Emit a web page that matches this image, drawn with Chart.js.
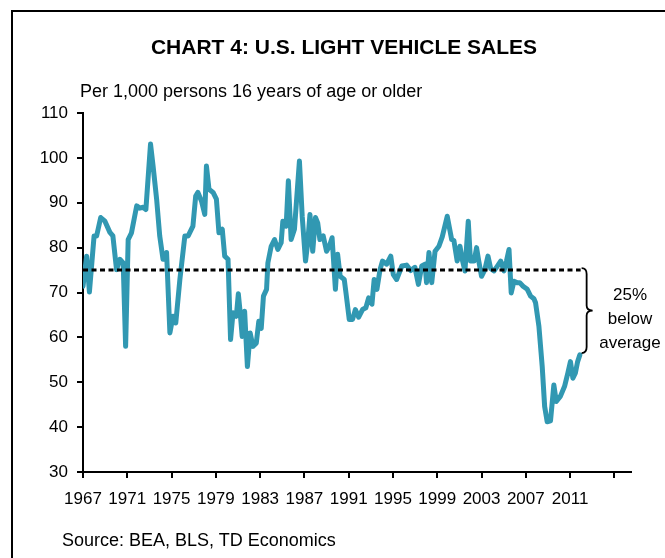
<!DOCTYPE html>
<html>
<head>
<meta charset="utf-8">
<script src="https://cdn.jsdelivr.net/npm/chart.js@4.4.1/dist/chart.umd.min.js"></script>
<style>
  html, body { margin: 0; padding: 0; width: 665px; height: 558px; overflow: hidden; background: #fff; }
  body { position: relative; font-family: "Liberation Sans", Arial, sans-serif; color: #000; }
  #frame { position: absolute; left: 11px; top: 10px; width: 800px; height: 800px; border-left: 2.5px solid #000; border-top: 2.5px solid #000; box-sizing: border-box; }
  #c { position: absolute; left: 0; top: 0; }
  .t { position: absolute; white-space: nowrap; line-height: 1; }
  #title { left: 0; width: 688px; text-align: center; top: 36px; font-size: 21px; font-weight: bold; }
  #subtitle { left: 80px; top: 82px; font-size: 18px; }
  #source { left: 62px; top: 531px; font-size: 18px; }
  #note { left: 580px; width: 100px; top: 283px; font-size: 17px; line-height: 24px; text-align: center; white-space: normal; }
</style>
</head>
<body>
<div id="frame"></div>
<canvas id="c" width="665" height="558"></canvas>
<div class="t" id="title">CHART 4: U.S. LIGHT VEHICLE SALES</div>
<div class="t" id="subtitle">Per 1,000 persons 16 years of age or older</div>
<div class="t" id="source">Source: BEA, BLS, TD Economics</div>
<div class="t" id="note">25%<br>below<br>average</div>
<script>
// Light vehicle sales per 1,000 persons aged 16+
const years = [
  1967.00, 1967.33, 1967.58, 1968.00, 1968.23, 1968.60, 1968.98, 1969.43, 1969.70, 1970.03,
  1970.33, 1970.63, 1970.85, 1971.08, 1971.38, 1971.85, 1972.13, 1972.43, 1972.68, 1973.10,
  1973.33, 1973.65, 1973.93, 1974.23, 1974.55, 1974.85, 1975.13, 1975.38, 1975.75, 1976.20,
  1976.50, 1976.93, 1977.18, 1977.38, 1977.70, 1978.00, 1978.15, 1978.38, 1978.75, 1979.05,
  1979.28, 1979.58, 1979.80, 1980.10, 1980.33, 1980.55, 1980.85, 1981.03, 1981.20, 1981.38,
  1981.60, 1981.85, 1982.10, 1982.35, 1982.65, 1982.88, 1983.10, 1983.30, 1983.58, 1983.70,
  1984.00, 1984.30, 1984.60, 1984.90, 1985.05, 1985.35, 1985.55, 1985.80, 1986.10, 1986.55,
  1986.80, 1987.10, 1987.30, 1987.50, 1987.75, 1988.00, 1988.20, 1988.40, 1988.70, 1989.00,
  1989.25, 1989.50, 1989.80, 1990.00, 1990.23, 1990.60, 1990.75, 1991.05, 1991.35, 1991.60,
  1991.90, 1992.25, 1992.55, 1992.80, 1993.10, 1993.30, 1993.55, 1993.83, 1994.05, 1994.43,
  1994.80, 1995.03, 1995.33, 1995.80, 1996.23, 1996.60, 1996.98, 1997.30, 1997.60, 1997.90,
  1998.03, 1998.25, 1998.50, 1998.80, 1999.15, 1999.45, 1999.90, 2000.30, 2000.50, 2000.80,
  2001.05, 2001.25, 2001.50, 2001.80, 2002.00, 2002.33, 2002.55, 2002.75, 2003.00, 2003.30,
  2003.58, 2003.83, 2004.13, 2004.43, 2004.73, 2005.03, 2005.25, 2005.48, 2005.68, 2005.93,
  2006.20, 2006.45, 2006.75, 2007.13, 2007.43, 2007.73, 2007.88, 2008.18, 2008.48, 2008.70,
  2008.93, 2009.23, 2009.53, 2009.75, 2010.13, 2010.50, 2010.80, 2011.03, 2011.25, 2011.48,
  2011.68, 2011.88
];
const sales = [
  71.4, 78.1, 70.1, 82.6, 82.6, 86.7, 85.9, 83.4, 82.6, 75.1,
  77.4, 76.6, 58.0, 81.8, 83.3, 89.3, 88.8, 89.0, 88.5, 103.1,
  98.2, 90.8, 82.6, 77.4, 78.9, 61.0, 64.7, 63.2, 72.9, 82.6,
  82.6, 84.8, 91.5, 92.3, 90.4, 87.4, 98.2, 93.0, 92.3, 90.8,
  83.3, 84.1, 78.1, 77.4, 59.5, 65.5, 64.7, 69.7, 65.5, 60.2,
  65.8, 53.5, 61.0, 58.0, 58.7, 63.6, 62.0, 69.2, 70.7, 76.6,
  80.3, 81.8, 79.6, 81.1, 85.9, 84.8, 94.9, 81.8, 84.1, 99.3,
  87.0, 77.0, 81.1, 87.4, 79.2, 86.7, 85.5, 81.8, 82.6, 79.2,
  80.3, 82.2, 70.7, 78.5, 73.6, 72.9, 70.0, 64.0, 64.0, 66.2,
  64.5, 66.2, 66.6, 68.8, 67.4, 72.9, 70.7, 75.1, 77.0, 76.3,
  78.1, 74.0, 72.9, 75.9, 76.1, 74.9, 75.6, 71.8, 75.9, 76.3,
  72.2, 78.9, 72.2, 79.2, 80.3, 82.4, 87.0, 81.8, 81.6, 77.0,
  80.3, 77.4, 74.8, 85.9, 77.0, 77.0, 80.0, 77.0, 73.6, 75.1,
  78.1, 75.3, 74.8, 75.9, 77.0, 74.8, 77.0, 79.6, 69.9, 72.5,
  72.2, 72.2, 71.4, 70.7, 69.2, 68.6, 67.7, 62.5, 53.5, 44.6,
  41.2, 41.4, 49.4, 45.7, 46.9, 49.1, 52.1, 54.6, 50.9, 52.1,
  54.6, 56.1
];
const averageValue = 75;
const averageSpan = [1967, 2011.95];
const braceRange = [75, 56.5];
const xTickYears = [1967, 1971, 1975, 1979, 1983, 1987, 1991, 1995, 1999, 2003, 2007, 2011, 2015];
const xLabelYears = [1967, 1971, 1975, 1979, 1983, 1987, 1991, 1995, 1999, 2003, 2007, 2011];
const yTicks = [30, 40, 50, 60, 70, 80, 90, 100, 110];

const FONT = '"Liberation Sans", Arial, sans-serif';
const salesPoints = years.map((x, i) => ({ x: x, y: sales[i] }));
const avgPoints = averageSpan.map(x => ({ x: x, y: averageValue }));

const bracePlugin = {
  id: 'brace',
  afterDatasetsDraw(chart) {
    const { ctx, scales } = chart;
    const x0 = scales.x.getPixelForValue(averageSpan[1]) + 1;
    const yTop = scales.y.getPixelForValue(braceRange[0]) - 2;
    const yBot = scales.y.getPixelForValue(braceRange[1]);
    const yMid = (yTop + yBot) / 2;
    const w = 5, tip = 11;
    ctx.save();
    ctx.strokeStyle = '#000';
    ctx.lineWidth = 1.8;
    ctx.beginPath();
    ctx.moveTo(x0, yTop);
    ctx.quadraticCurveTo(x0 + w, yTop, x0 + w, yTop + 6);
    ctx.lineTo(x0 + w, yMid - 5);
    ctx.quadraticCurveTo(x0 + w, yMid, x0 + tip, yMid);
    ctx.quadraticCurveTo(x0 + w, yMid, x0 + w, yMid + 5);
    ctx.lineTo(x0 + w, yBot - 6);
    ctx.quadraticCurveTo(x0 + w, yBot, x0, yBot);
    ctx.stroke();
    ctx.restore();
  }
};

const axisCommon = {
  grid: { display: true, drawOnChartArea: false, drawTicks: true, tickLength: 6, color: '#000', lineWidth: 2 },
  border: { display: true, color: '#000', width: 2 },
};

new Chart(document.getElementById('c'), {
  type: 'line',
  data: {
    datasets: [
      {
        label: 'Average',
        data: avgPoints,
        borderColor: '#000',
        borderWidth: 3,
        borderDash: [5, 3.5],
        pointRadius: 0,
        fill: false,
        order: 0
      },
      {
        label: 'Light vehicle sales',
        data: salesPoints,
        borderColor: '#3198b2',
        borderWidth: 5,
        pointRadius: 0,
        tension: 0,
        borderJoinStyle: 'round',
        borderCapStyle: 'round',
        fill: false,
        order: 1
      }
    ]
  },
  options: {
    responsive: false,
    animation: false,
    events: [],
    layout: { padding: { left: 0, top: 113, right: 34, bottom: 0 } },
    plugins: { legend: { display: false }, tooltip: { enabled: false }, title: { display: false } },
    scales: {
      x: {
        type: 'linear',
        min: 1967,
        max: 2016.5,
        ...axisCommon,
        afterBuildTicks(scale) { scale.ticks = xTickYears.map(v => ({ value: v })); },
        afterFit(scale) { scale.height = 86; },
        ticks: {
          autoSkip: false,
          maxRotation: 0,
          padding: 11,
          color: '#000',
          font: { family: FONT, size: 17 },
          callback: v => (xLabelYears.includes(v) ? String(v) : '')
        }
      },
      y: {
        min: 30,
        max: 110,
        ...axisCommon,
        afterBuildTicks(scale) { scale.ticks = yTicks.map(v => ({ value: v })); },
        afterFit(scale) { scale.width = 83; },
        ticks: {
          padding: 9,
          color: '#000',
          font: { family: FONT, size: 17 }
        }
      }
    }
  },
  plugins: [bracePlugin]
});
</script>
</body>
</html>
